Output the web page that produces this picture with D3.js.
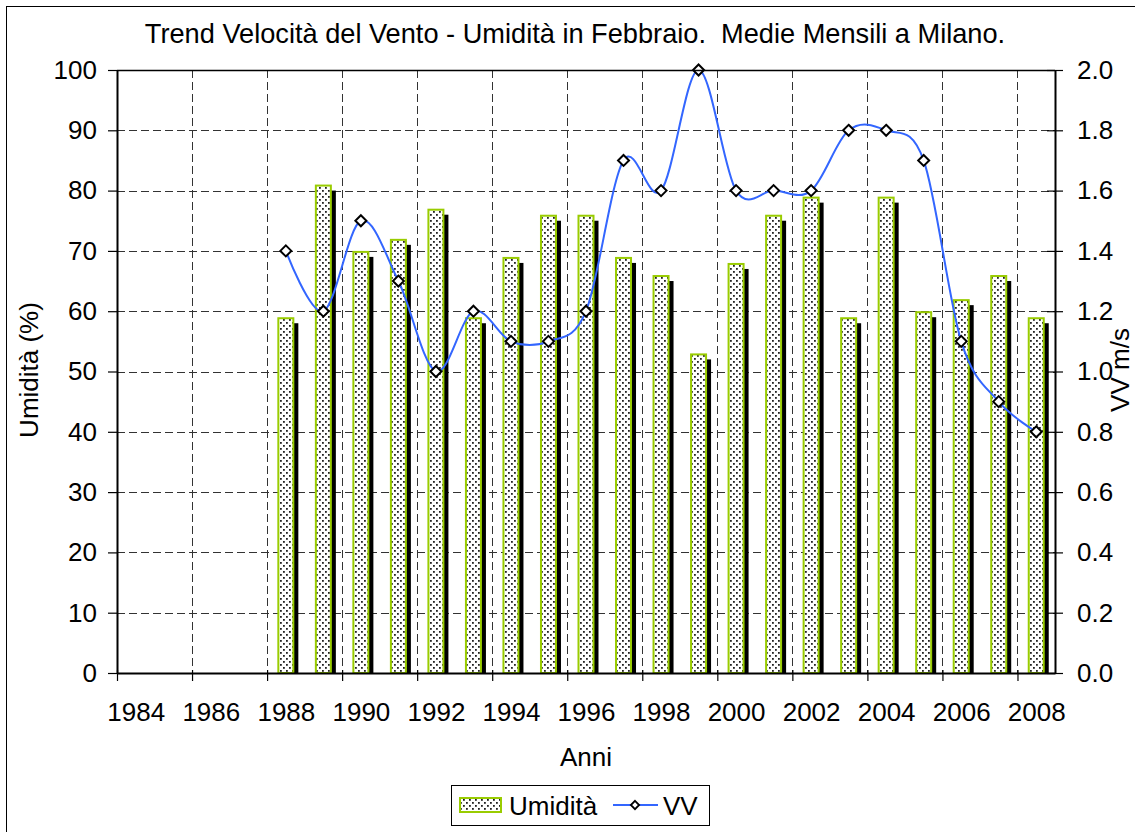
<!DOCTYPE html>
<html><head><meta charset="utf-8">
<script src="https://cdn.jsdelivr.net/npm/d3@7"></script>
<style>
html,body{margin:0;padding:0;background:#fff;}
text{font-family:"Liberation Sans",Arial,sans-serif;fill:#000;}
</style></head>
<body><svg id="chart" width="1135" height="832"></svg>
<script>
const years = [1988,1989,1990,1991,1992,1993,1994,1995,1996,1997,1998,1999,2000,2001,2002,2003,2004,2005,2006,2007,2008];
const umidita = [59,81,70,72,77,59,69,76,76,69,66,53,68,76,79,59,79,60,62,66,59];
const vv = [1.4,1.2,1.5,1.3,1.0,1.2,1.1,1.1,1.2,1.7,1.6,2.0,1.6,1.6,1.6,1.8,1.8,1.7,1.1,0.9,0.8];
const xTickYears = [1984,1986,1988,1990,1992,1994,1996,1998,2000,2002,2004,2006,2008];
const leftTicks = [0,10,20,30,40,50,60,70,80,90,100];
const rightTicks = [0,0.2,0.4,0.6,0.8,1.0,1.2,1.4,1.6,1.8,2.0];
const titleText = "Trend Velocità del Vento - Umidità in Febbraio.  Medie Mensili a Milano.";

const svg = d3.select("#chart");
const L=117, R=1055, T=70, B=673;
const x = d3.scaleLinear().domain([1984,2009]).range([L,R]);
const yL = d3.scaleLinear().domain([0,100]).range([B,T]);
const yR = d3.scaleLinear().domain([0,2]).range([B,T]);
const green = "#99cc00", blue = "#3366ff";

// pattern
const defs = svg.append("defs");
const pat = defs.append("pattern").attr("id","dots").attr("patternUnits","userSpaceOnUse")
  .attr("width",6).attr("height",6);
pat.append("rect").attr("width",6).attr("height",6).attr("fill","#fff");
pat.append("rect").attr("x",1).attr("y",1).attr("width",1.8).attr("height",1.8).attr("fill","#222");
pat.append("rect").attr("x",4).attr("y",4).attr("width",1.8).attr("height",1.8).attr("fill","#222");
defs.append("clipPath").attr("id","plotclip").append("rect")
  .attr("x",L).attr("y",T-20).attr("width",R-L).attr("height",B-T+20);

// outer border
svg.append("rect").attr("x",6.5).attr("y",6.5).attr("width",1140).attr("height",840)
  .attr("fill","#fff").attr("stroke","#000").attr("stroke-width",1);

// gridlines
const grid = svg.append("g");
grid.selectAll("line.h").data(leftTicks.filter(d=>d>0 && d<100)).join("line")
  .attr("x1",L).attr("x2",R).attr("y1",d=>Math.round(yL(d))+0.5).attr("y2",d=>Math.round(yL(d))+0.5)
  .attr("stroke","#333").attr("stroke-dasharray","8,4");
grid.selectAll("line.v").data(xTickYears.filter(d=>d>1984)).join("line")
  .attr("y1",T).attr("y2",B).attr("x1",d=>Math.round(x(d))+0.5).attr("x2",d=>Math.round(x(d))+0.5)
  .attr("stroke","#333").attr("stroke-dasharray","8,4");

// bars
const bw = 17;
const bars = svg.append("g").attr("clip-path","url(#plotclip)");
bars.selectAll("rect.sh").data(years).join("rect")
  .attr("x",(d)=>x(d+0.5)-bw/2+4).attr("y",(d,i)=>yL(umidita[i])+6)
  .attr("width",bw).attr("height",(d,i)=>B-yL(umidita[i]))
  .attr("fill","#000");
bars.selectAll("rect.b").data(years).join("rect")
  .attr("x",(d)=>x(d+0.5)-bw/2+1).attr("y",(d,i)=>yL(umidita[i])+1)
  .attr("width",bw-2).attr("height",(d,i)=>B-yL(umidita[i])-1)
  .attr("fill","url(#dots)").attr("stroke",green).attr("stroke-width",2);

// line
const line = d3.line().x((d,i)=>x(years[i]+0.5)).y(d=>yR(d)).curve(d3.curveCatmullRom.alpha(0));
svg.append("path").datum(vv).attr("d",line).attr("fill","none").attr("stroke",blue).attr("stroke-width",2);
const diamond = "M0,-5.5L5.5,0L0,5.5L-5.5,0Z";
svg.selectAll("path.m").data(vv).join("path")
  .attr("d",diamond).attr("transform",(d,i)=>`translate(${x(years[i]+0.5)},${yR(d)})`)
  .attr("fill","#fff").attr("stroke","#000").attr("stroke-width",2);

// plot frame
svg.append("line").attr("x1",L).attr("x2",R).attr("y1",T+0.5).attr("y2",T+0.5).attr("stroke","#000").attr("stroke-width",1.5);

// axes
const fs = 26;
const axL = d3.axisLeft(yL).tickValues(leftTicks).tickSizeOuter(0).tickSizeInner(9).tickPadding(11).tickFormat(d3.format("d"));
const gL = svg.append("g").attr("transform",`translate(${L},0)`).call(axL);
const axR = d3.axisRight(yR).tickValues(rightTicks).tickSizeOuter(0).tickSizeInner(8).tickPadding(14).tickFormat(d3.format(".1f"));
const gR = svg.append("g").attr("transform",`translate(${R},0)`).call(axR);
gR.selectAll(".tick line").attr("x1",-8);
const axB = d3.axisBottom(x).tickValues(xTickYears).tickSizeOuter(0).tickSizeInner(8).tickPadding(22).tickFormat(d3.format("d"));
const gB = svg.append("g").attr("transform",`translate(0,${B})`).call(axB);
gB.selectAll(".tick line").attr("y1",-3);
gB.selectAll(".tick text").attr("x",x(1984.5)-x(1984));
[gL,gR,gB].forEach(g=>{
  g.selectAll("text").style("font-size",fs+"px").style("font-family","Liberation Sans, Arial, sans-serif").attr("fill","#000");
  g.selectAll(".tick line").attr("stroke","#000").attr("stroke-width",1.2);
  g.select(".domain").attr("stroke","#000").attr("stroke-width",2);
});

// titles
svg.append("text").attr("x",575).attr("y",43).attr("text-anchor","middle")
  .style("font-size","27.2px").style("white-space","pre").text(titleText);
svg.append("text").attr("x",586).attr("y",766).attr("text-anchor","middle").style("font-size",fs+"px").text("Anni");
svg.append("text").attr("transform","translate(38,370) rotate(-90)").attr("text-anchor","middle").style("font-size",fs+"px").text("Umidità (%)");
svg.append("text").attr("transform","translate(1129,370) rotate(-90)").attr("text-anchor","middle").style("font-size",fs+"px").text("VV m/s");

// legend
const lg = svg.append("g");
lg.append("rect").attr("x",451.5).attr("y",785.5).attr("width",258).attr("height",40).attr("fill","#fff").attr("stroke","#000").attr("stroke-width",1);
lg.append("rect").attr("x",460).attr("y",798).attr("width",41).attr("height",14).attr("fill","url(#dots)").attr("stroke",green).attr("stroke-width",2);
lg.append("text").attr("x",509).attr("y",815).style("font-size",fs+"px").text("Umidità");
lg.append("line").attr("x1",613).attr("x2",658).attr("y1",805).attr("y2",805).attr("stroke",blue).attr("stroke-width",2);
lg.append("path").attr("d",diamond).attr("transform","translate(635,805) scale(0.75)").attr("fill","#fff").attr("stroke","#000").attr("stroke-width",2.4);
lg.append("text").attr("x",663).attr("y",815).style("font-size",fs+"px").text("VV");
</script></body></html>
